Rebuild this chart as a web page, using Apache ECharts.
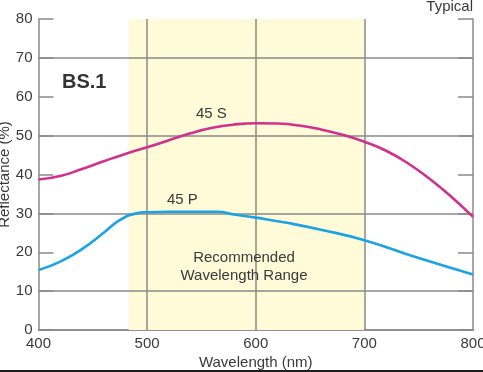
<!DOCTYPE html>
<html><head><meta charset="utf-8">
<script src="https://cdn.jsdelivr.net/npm/echarts@6/dist/echarts.min.js"></script>
<style>html,body{margin:0;padding:0;background:#fff}#c{width:483px;height:372px}</style>
</head><body><div id="c"></div>
<script>
const sWavelengths = [400,420,440,460,480,500,520,540,560,580,600,620,640,660,680,700,720,740,760,780,800];
const sValues =      [38.7,39.6,41.4,43.4,45.3,47.0,48.8,50.6,52.0,52.85,53.2,53.1,52.6,51.6,50.2,48.4,46.1,42.9,38.9,34.3,29.1];
const pWavelengths = [400,420,440,460,475,490,500,520,540,565,580,600,630,660,700,750,800];
const pValues =      [15.4,17.6,20.8,25.0,28.3,30.0,30.3,30.4,30.4,30.4,29.7,28.9,27.5,25.8,23.1,18.5,14.3];
const recommendedRange = [483, 700];
const hGridValues = [10,30,50,70];
const vGridValues = [500,600,700];
const xTicks = [400,500,600,700,800];
const yTicks = [0,10,20,30,40,50,60,70,80];

const FONT = 'Liberation Sans, Arial, Helvetica, sans-serif';
const GRAY = '#8a8a8a';
const TXT = '#3a3a3a';
const chart = echarts.init(document.getElementById('c'), null, {renderer:'canvas'});
const pair = (xs, ys) => xs.map((x,i)=>[x, ys[i]]);

chart.setOption({
  animation:false,
  grid:{left:38.5, right:10, top:19, bottom:42, containLabel:false, outerBoundsMode:'none'},
  xAxis:[{
    type:'value', min:xTicks[0], max:xTicks[xTicks.length-1], interval:100,
    name:'Wavelength (nm)', nameLocation:'middle', nameGap:25, nameMoveOverlap:false,
    nameTextStyle:{fontFamily:FONT, fontSize:15, color:TXT},
    axisLine:{lineStyle:{color:GRAY, width:1.5}},
    axisTick:{show:false},
    splitLine:{show:false},
    axisLabel:{fontFamily:FONT, fontSize:15, color:TXT, margin:6, hideOverlap:false}
  },{
    type:'value', position:'top', min:xTicks[0], max:xTicks[xTicks.length-1],
    axisLine:{show:true, lineStyle:{color:GRAY, width:1.5}},
    axisTick:{show:false}, axisLabel:{show:false}, splitLine:{show:false}
  }],
  yAxis:[{
    type:'value', min:yTicks[0], max:yTicks[yTicks.length-1], interval:10,
    name:'Reflectance (%)', nameLocation:'middle', nameGap:26, nameMoveOverlap:false,
    nameTextStyle:{fontFamily:FONT, fontSize:15, color:TXT},
    axisLine:{show:true, lineStyle:{color:GRAY, width:1.5}},
    axisTick:{show:true, inside:true, length:15, lineStyle:{color:GRAY, width:1.5}},
    splitLine:{show:false},
    axisLabel:{fontFamily:FONT, fontSize:15, color:TXT, margin:6}
  },{
    type:'value', position:'right', min:yTicks[0], max:yTicks[yTicks.length-1], interval:10,
    axisLine:{show:true, lineStyle:{color:GRAY, width:1.5}},
    axisTick:{show:true, inside:true, length:15, lineStyle:{color:GRAY, width:1.5}},
    axisLabel:{show:false}, splitLine:{show:false}
  }],
  series:[
    {
      type:'line', name:'band', data:[], silent:true, z:1,
      markArea:{silent:true, itemStyle:{color:'#fffad8'},
        data:[[{xAxis:recommendedRange[0]},{xAxis:recommendedRange[1]}]]},
      markLine:{silent:true, symbol:['none','none'], label:{show:false},
        lineStyle:{color:GRAY, width:1.5, type:'solid'},
        data: hGridValues.map(v=>({yAxis:v})).concat(vGridValues.map(v=>({xAxis:v})))}
    },
    {
      type:'line', name:'45 S', data:pair(sWavelengths, sValues), smooth:0.5,
      showSymbol:false, z:5, lineStyle:{color:'#d1308d', width:2.6}
    },
    {
      type:'line', name:'45 P', data:pair(pWavelengths, pValues), smooth:0.5,
      showSymbol:false, z:5, lineStyle:{color:'#1aa4e2', width:2.6}
    }
  ],
  graphic:[
    {type:'text', z:100, right:10, top:-1, style:{text:'Typical', font:'15px '+FONT, fill:TXT}},
    {type:'text', z:100, left:62, top:72, style:{text:'BS.1', font:'bold 20px '+FONT, fill:'#333'}},
    {type:'text', z:100, left:196, top:106, style:{text:'45 S', font:'15px '+FONT, fill:TXT}},
    {type:'text', z:100, left:167, top:192, style:{text:'45 P', font:'15px '+FONT, fill:TXT}},
    {type:'text', z:100, x:244, y:249, style:{text:'Recommended\nWavelength Range', font:'15px '+FONT, fill:TXT, align:'center', lineHeight:18}},
    {type:'rect', z:100, left:0, top:370, shape:{width:483, height:2}, style:{fill:'#1e1e1e'}}
  ]
});
</script></body></html>
